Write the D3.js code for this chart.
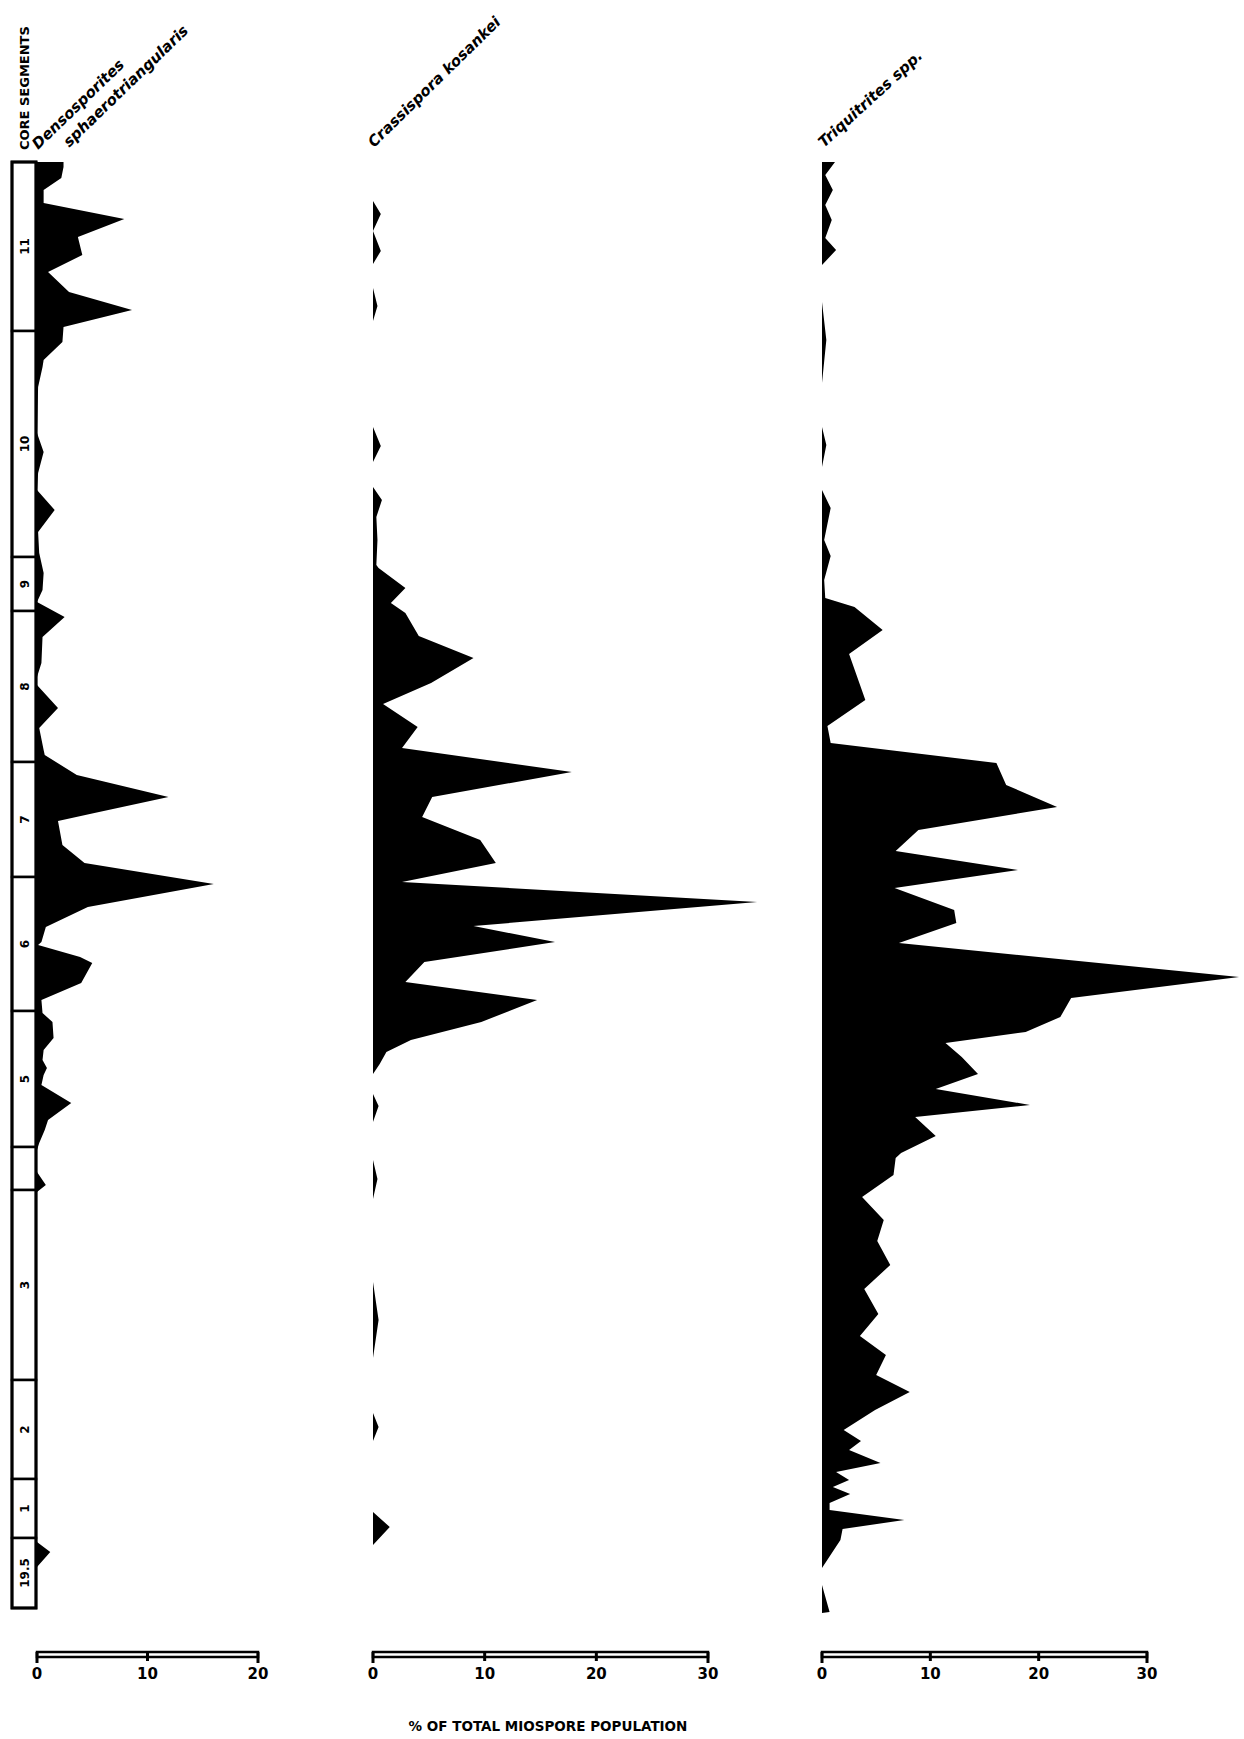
<!DOCTYPE html>
<html>
<head>
<meta charset="utf-8">
<script src="https://cdn.jsdelivr.net/npm/d3@7"></script>
<style>
  body { margin: 0; background: #fff; }
  text { font-family: "DejaVu Sans", "Liberation Sans", Arial, sans-serif; font-weight: bold; }
</style>
</head>
<body>
<div id="paper"></div>
<script>
// core segments, top to bottom (depth in core units, top = 0)
var segLabels = ["11", "10", "9", "8", "7", "6", "5", "", "3", "2", "1", "19.5"];
var segBounds = [0, 16.9, 39.5, 44.9, 60.0, 71.5, 84.9, 98.5, 102.8, 121.8, 131.7, 137.6, 144.6];

// [depth, % of total miospore population]; null breaks the profile
var densosporites = [
  [0,2.4],[0.5,2.4],[1.6,2.2],[2.8,0.6],[4.1,0.6],[5.7,7.9],[7.5,3.7],[9.3,4.1],[11,1.0],[13,2.9],
  [14.8,8.6],[16.5,2.4],[18,2.3],[19.8,0.6],[20.5,0.5],[22.5,0.1],[27.1,0],[29.0,0.6],[31.1,0.1],
  [32.8,0],[34.8,1.6],[37.0,0.1],[39.1,0.2],[41.1,0.6],[42.8,0.5],[44.0,0],[45.5,2.5],[47.5,0.5],
  [50.1,0.4],[51.5,0],[52.3,0],[54.6,1.9],[56.6,0.2],[58.8,0.6],[59.3,0.7],[61.3,3.6],[63.5,11.9],
  [65.1,5.2],[65.9,1.9],[68.3,2.3],[70.1,4.3],[72.2,16.0],[74.5,4.6],[76.5,0.8],[78.0,0.4],[78.3,0.1],
  [79.5,3.9],[80.1,5.0],[82.1,4.0],[83.8,0.4],[85.1,0.5],[86.0,1.4],[87.6,1.5],[88.8,0.6],[89.8,0.5],
  [90.6,0.9],[91.3,0.6],[92.3,0.4],[94.1,3.1],[95.8,1.0],[96.8,0.7],[98.1,0.2],[98.8,0],null,
  [101.0,0],[102.3,0.8],[103.0,0],null,
  [138.0,0],[139.0,1.2],[140.5,0]
];

var crassispora = [
  [3.9,0],[5.2,0.7],[6.9,0],[8.9,0.7],[10.2,0],null,
  [12.6,0],[14.4,0.4],[15.9,0],null,
  [26.5,0],[28.4,0.7],[30.0,0],null,
  [32.5,0],[33.8,0.8],[35.5,0.3],[37.8,0.4],[40.3,0.3],[40.6,0.5],[42.6,2.9],[44.1,1.6],[45.1,2.9],
  [47.4,4.1],[49.6,9.0],[52.1,5.2],[54.2,0.9],[56.5,4.0],[58.6,2.6],[61.0,17.8],[63.5,5.3],[65.5,4.4],
  [67.8,9.6],[70.1,11.0],[72.0,2.6],[74.0,34.4],[76.4,9.0],[78.0,16.3],[80.0,4.6],[82.0,2.9],[83.8,14.7],
  [86.0,9.7],[87.8,3.4],[89.0,1.2],[90.2,0.6],[91.2,0],null,
  [93.2,0],[94.4,0.5],[96.0,0],null,
  [99.8,0],[101.7,0.4],[103.7,0],null,
  [112.0,0],[115.8,0.5],[119.6,0],null,
  [125.1,0],[126.5,0.5],[127.9,0],null,
  [135.0,0],[136.5,1.5],[138.3,0]
];

var triquitrites = [
  [0,1.2],[1.3,0.3],[2.8,1.0],[4.3,0.3],[5.8,0.9],[7.6,0.3],[8.8,1.3],[10.3,0],null,
  [14.0,0],[17.8,0.4],[22.1,0],null,
  [26.5,0],[28.3,0.4],[30.5,0],null,
  [32.8,0],[34.6,0.8],[37.8,0.2],[39.4,0.8],[41.8,0.2],[43.6,0.3],[44.5,3.0],[46.8,5.6],[49.2,2.5],
  [53.8,4.0],[56.4,0.5],[58.1,0.8],[60.1,16.1],[62.3,17.0],[64.5,21.7],[66.8,8.9],[68.9,6.8],[70.8,18.1],
  [72.6,6.7],[74.8,12.2],[76.1,12.4],[78.1,7.1],[81.5,38.5],[83.6,23.0],[85.5,22.0],[87.0,18.8],
  [88.1,11.4],[89.5,12.9],[91.2,14.4],[92.7,10.5],[94.3,19.2],[95.5,8.6],[97.4,10.5],[99.1,7.3],
  [99.6,6.8],[101.3,6.6],[103.5,3.7],[105.8,5.7],[107.9,5.1],[110.3,6.3],[112.7,3.9],[115.2,5.2],
  [117.4,3.5],[119.3,5.9],[121.3,5.0],[123.0,8.1],[124.8,4.9],[126.8,2.0],[127.9,3.6],[128.8,2.5],
  [130.1,5.4],[131.0,1.3],[131.8,2.5],[132.5,1.0],[133.2,2.6],[134.1,0.7],[134.8,0.7],[135.8,7.6],
  [136.7,1.9],[137.8,1.7],[140.6,0],null,
  [142.3,0],[145.0,0.7],[145.1,0]
];

var panelNames = [["Densosporites", "sphaerotriangularis"], ["Crassispora kosankei"], ["Triquitrites spp."]];
var panelMax = [20, 30, 30];
var panelTicks = [[0, 10, 20], [0, 10, 20, 30], [0, 10, 20, 30]];
var axisTitle = "% OF TOTAL MIOSPORE POPULATION";

var width = 1244,
    height = 1739;

var svg = d3.select("#paper").append("svg")
    .attr("width", width)
    .attr("height", height);

var y = d3.scaleLinear().domain([0, 100]).range([162, 1162]);

var ranges = [[37, 258], [373, 708], [822, 1147]];
var series = [densosporites, crassispora, triquitrites];
var titleAt = [[38, 150, -44], [374, 148, -44.4], [824, 148, -42.5]];
var axisY = 1652;

// core column
var core = svg.append("g");
segLabels.forEach(function(lab, i) {
  core.append("rect")
    .attr("x", 12).attr("y", y(segBounds[i]))
    .attr("width", 24).attr("height", y(segBounds[i + 1]) - y(segBounds[i]))
    .attr("fill", "#fff").attr("stroke", "#000").attr("stroke-width", 2.5);
  if (lab) {
    var cy = (y(segBounds[i]) + y(segBounds[i + 1])) / 2;
    core.append("text")
      .attr("transform", "translate(28.5," + cy + ") rotate(-90)")
      .attr("text-anchor", "middle")
      .attr("font-size", 12)
      .text(lab);
  }
});
core.append("rect")
  .attr("x", 12).attr("y", y(0))
  .attr("width", 24).attr("height", y(segBounds[segBounds.length - 1]) - y(0))
  .attr("fill", "none").attr("stroke", "#000").attr("stroke-width", 3);

svg.append("text")
  .attr("transform", "translate(29,150) rotate(-90)")
  .attr("font-size", 13)
  .text("CORE SEGMENTS");

series.forEach(function(data, i) {
  var x = d3.scaleLinear().domain([0, panelMax[i]]).range(ranges[i]);

  var area = d3.area()
    .defined(function(d) { return d != null; })
    .y(function(d) { return y(d[0]); })
    .x0(x(0))
    .x1(function(d) { return x(d[1]); });

  svg.append("path")
    .datum(data)
    .attr("d", area)
    .attr("fill", "#000");

  // species name, slanted
  var t = titleAt[i];
  var lbl = svg.append("text")
    .attr("transform", "translate(" + t[0] + "," + t[1] + ") rotate(" + t[2] + ")")
    .attr("font-size", 15).attr("font-style", "italic");
  panelNames[i].forEach(function(s, k) {
    lbl.append("tspan").attr("x", k * 24).attr("y", k * 20).text(s);
  });

  // scale bar
  var g = svg.append("g");
  g.append("rect")
    .attr("x", x(0)).attr("y", axisY)
    .attr("width", x(panelMax[i]) - x(0)).attr("height", 5)
    .attr("fill", "none").attr("stroke", "#000").attr("stroke-width", 2.5);
  g.selectAll("line").data(panelTicks[i]).enter().append("line")
    .attr("x1", function(d) { return x(d); })
    .attr("x2", function(d) { return x(d); })
    .attr("y1", axisY)
    .attr("y2", function(d) { return (d === 0 || d === panelMax[i]) ? axisY + 11 : axisY + 9; })
    .attr("stroke", "#000").attr("stroke-width", 3);
  g.selectAll("text").data(panelTicks[i]).enter().append("text")
    .attr("x", function(d) { return x(d); })
    .attr("y", axisY + 27)
    .attr("text-anchor", "middle")
    .attr("font-size", 15)
    .text(function(d) { return d; });
});

svg.append("text")
  .attr("x", 548).attr("y", 1731)
  .attr("text-anchor", "middle")
  .attr("font-size", 13.5)
  .text(axisTitle);
</script>
</body>
</html>
